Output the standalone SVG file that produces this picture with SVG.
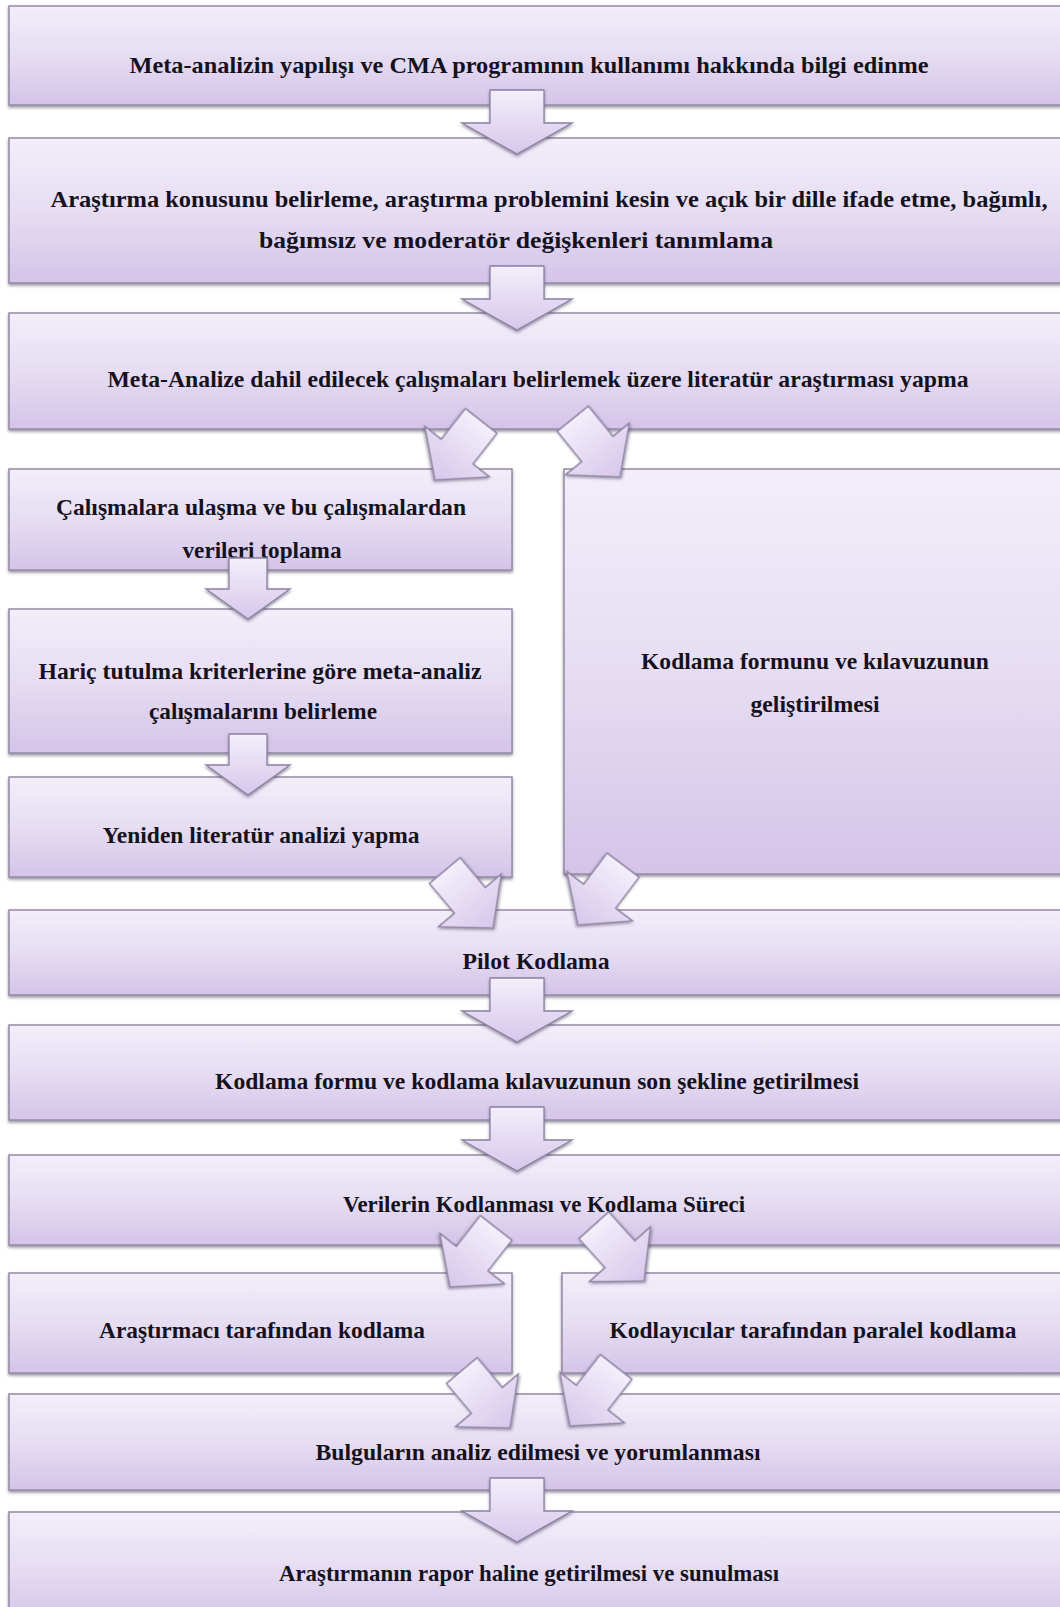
<svg xmlns="http://www.w3.org/2000/svg" width="1060" height="1607" viewBox="0 0 1060 1607">
  <defs>
    <linearGradient id="boxFill" x1="0" y1="0" x2="0" y2="1">
      <stop offset="0" stop-color="#f3eefa"/>
      <stop offset="0.5" stop-color="#e6ddf2"/>
      <stop offset="1" stop-color="#d4c4e9"/>
    </linearGradient>
    <linearGradient id="arrowFill" x1="0" y1="0" x2="0" y2="1">
      <stop offset="0" stop-color="#f4effb"/>
      <stop offset="1" stop-color="#d6c7eb"/>
    </linearGradient>
    <filter id="shadow" x="-5%" y="-10%" width="110%" height="130%">
      <feDropShadow dx="0" dy="2" stdDeviation="1.5" flood-color="#4a3d5c" flood-opacity="0.55"/>
    </filter>
    <!-- block arrows, tip at origin, pointing down -->
    <path id="bigArrow" d="M-27,-64 H27 V-31 H55 L0,0 L-55,-31 H-27 Z"/>
    <path id="smallArrow" d="M-19,-61 H19 V-30 H42 L0,0 L-42,-30 H-19 Z"/>
    <path id="diagArrow" d="M-20,-75 H20 V-36 H41 L0,0 L-41,-36 H-20 Z"/>
  </defs>
  <style>
    .box { fill: url(#boxFill); stroke: #958aa6; stroke-width: 1.5; filter: url(#shadow); }
    .lbl { font-family: "Liberation Serif", "Times New Roman", serif; font-weight: bold; font-size: 24px; fill: #15121d; text-anchor: middle; }
    .arr { fill: url(#arrowFill); stroke: #8c80a1; stroke-width: 1.3; filter: url(#shadow); }
  </style>

  <rect width="1060" height="1607" fill="#ffffff"/>

  <g id="nodes">
    <g id="n1">
      <rect class="box" x="9" y="6" width="1060" height="99"/>
      <text class="lbl" x="529" y="73" textLength="799" lengthAdjust="spacingAndGlyphs">Meta-analizin yapılışı ve CMA programının kullanımı hakkında bilgi edinme</text>
    </g>
    <g id="n2">
      <rect class="box" x="9" y="138" width="1060" height="145"/>
      <text class="lbl" x="549" y="207" textLength="997" lengthAdjust="spacingAndGlyphs">Araştırma konusunu belirleme, araştırma problemini kesin ve açık bir dille ifade etme, bağımlı,</text>
      <text class="lbl" x="516" y="248" textLength="514" lengthAdjust="spacingAndGlyphs">bağımsız ve moderatör değişkenleri tanımlama</text>
    </g>
    <g id="n3">
      <rect class="box" x="9" y="313" width="1060" height="116"/>
      <text class="lbl" x="538" y="387" textLength="861" lengthAdjust="spacingAndGlyphs">Meta-Analize dahil edilecek çalışmaları belirlemek üzere literatür araştırması yapma</text>
    </g>
    <g id="n4">
      <rect class="box" x="9" y="469" width="503" height="101"/>
      <text class="lbl" x="261" y="515" textLength="410" lengthAdjust="spacingAndGlyphs">Çalışmalara ulaşma ve bu çalışmalardan</text>
      <text class="lbl" x="262" y="558" textLength="159" lengthAdjust="spacingAndGlyphs">verileri toplama</text>
    </g>
    <g id="n5">
      <rect class="box" x="564" y="469" width="505" height="405"/>
      <text class="lbl" x="815" y="669" textLength="348" lengthAdjust="spacingAndGlyphs">Kodlama formunu ve kılavuzunun</text>
      <text class="lbl" x="815" y="712" textLength="129" lengthAdjust="spacingAndGlyphs">geliştirilmesi</text>
    </g>
    <g id="n6">
      <rect class="box" x="9" y="609" width="503" height="144"/>
      <text class="lbl" x="260" y="679" textLength="443" lengthAdjust="spacingAndGlyphs">Hariç tutulma kriterlerine göre meta-analiz</text>
      <text class="lbl" x="263" y="719" textLength="228" lengthAdjust="spacingAndGlyphs">çalışmalarını belirleme</text>
    </g>
    <g id="n7">
      <rect class="box" x="9" y="777" width="503" height="100"/>
      <text class="lbl" x="261" y="843" textLength="317" lengthAdjust="spacingAndGlyphs">Yeniden literatür analizi yapma</text>
    </g>
    <g id="n8">
      <rect class="box" x="9" y="910" width="1060" height="85"/>
      <text class="lbl" x="536" y="969" textLength="147" lengthAdjust="spacingAndGlyphs">Pilot Kodlama</text>
    </g>
    <g id="n9">
      <rect class="box" x="9" y="1025" width="1060" height="95"/>
      <text class="lbl" x="537" y="1089" textLength="644" lengthAdjust="spacingAndGlyphs">Kodlama formu ve kodlama kılavuzunun son şekline getirilmesi</text>
    </g>
    <g id="n10">
      <rect class="box" x="9" y="1155" width="1060" height="90"/>
      <text class="lbl" x="544" y="1212" textLength="402" lengthAdjust="spacingAndGlyphs">Verilerin Kodlanması ve Kodlama Süreci</text>
    </g>
    <g id="n11">
      <rect class="box" x="9" y="1273" width="503" height="100"/>
      <text class="lbl" x="262" y="1338" textLength="326" lengthAdjust="spacingAndGlyphs">Araştırmacı tarafından kodlama</text>
    </g>
    <g id="n12">
      <rect class="box" x="562" y="1273" width="507" height="100"/>
      <text class="lbl" x="813" y="1338" textLength="407" lengthAdjust="spacingAndGlyphs">Kodlayıcılar tarafından paralel kodlama</text>
    </g>
    <g id="n13">
      <rect class="box" x="9" y="1394" width="1060" height="96"/>
      <text class="lbl" x="538" y="1460" textLength="445" lengthAdjust="spacingAndGlyphs">Bulguların analiz edilmesi ve yorumlanması</text>
    </g>
    <g id="n14">
      <rect class="box" x="9" y="1512" width="1060" height="110"/>
      <text class="lbl" x="529" y="1581" textLength="500" lengthAdjust="spacingAndGlyphs">Araştırmanın rapor haline getirilmesi ve sunulması</text>
    </g>
  </g>

  <g id="connectors">
    <!-- straight down arrows between full-width steps -->
    <use href="#bigArrow" class="arr" transform="translate(517,154)"/>
    <use href="#bigArrow" class="arr" transform="translate(517,330)"/>
    <use href="#bigArrow" class="arr" transform="translate(517,1042)"/>
    <use href="#bigArrow" class="arr" transform="translate(517,1171)"/>
    <use href="#bigArrow" class="arr" transform="translate(517,1542)"/>
    <!-- down arrows in the left column -->
    <use href="#smallArrow" class="arr" transform="translate(248,619)"/>
    <use href="#smallArrow" class="arr" transform="translate(248,795)"/>
    <!-- splitting arrows -->
    <use href="#diagArrow" class="arr" transform="translate(435,480) rotate(38)"/>
    <use href="#diagArrow" class="arr" transform="translate(620,477) rotate(-39)"/>
    <use href="#diagArrow" class="arr" transform="translate(450,1287) rotate(38)"/>
    <use href="#diagArrow" class="arr" transform="translate(644,1281) rotate(-42)"/>
    <!-- merging arrows -->
    <use href="#diagArrow" class="arr" transform="translate(493,928) rotate(-40)"/>
    <use href="#diagArrow" class="arr" transform="translate(578,925) rotate(37)"/>
    <use href="#diagArrow" class="arr" transform="translate(510,1428) rotate(-40)"/>
    <use href="#diagArrow" class="arr" transform="translate(570,1426) rotate(38)"/>
  </g>
</svg>
